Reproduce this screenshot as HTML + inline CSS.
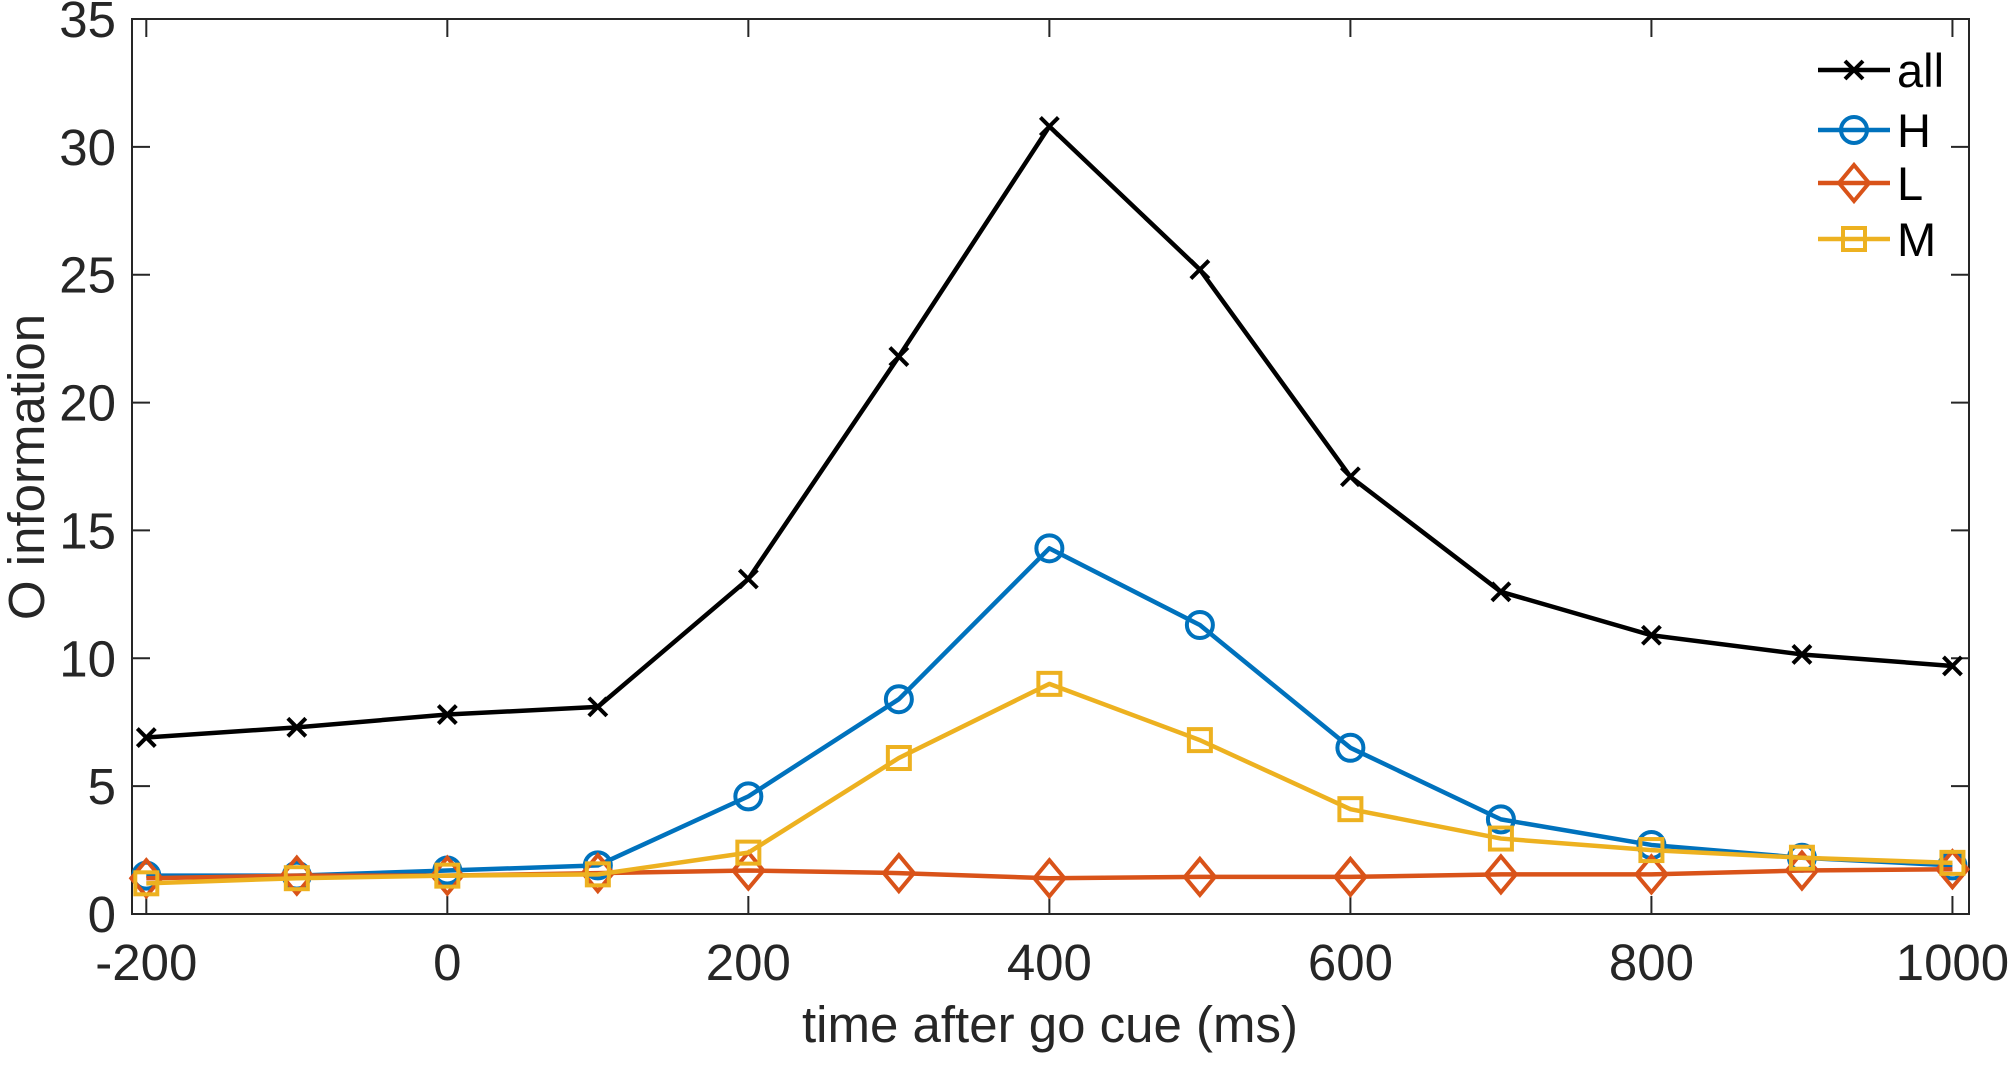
<!DOCTYPE html>
<html><head><meta charset="utf-8"><style>
body{margin:0;background:#fff;}
svg text{font-family:"Liberation Sans",Arial,sans-serif;fill:#262626;}
</style></head><body>
<svg id="chart" width="2008" height="1062" xmlns="http://www.w3.org/2000/svg">
<g id="grid"></g>
<g id="series"></g>
<g id="legend"></g>
</svg>
<script>
const times=[-200,-100,0,100,200,300,400,500,600,700,800,900,1000];
const allVals=[6.9,7.3,7.8,8.1,13.1,21.8,30.8,25.2,17.1,12.6,10.9,10.15,9.7];
const hVals=[1.5,1.5,1.7,1.9,4.6,8.4,14.3,11.3,6.5,3.7,2.7,2.2,1.9];
const lVals=[1.4,1.5,1.5,1.6,1.7,1.6,1.4,1.45,1.45,1.55,1.55,1.7,1.75];
const mVals=[1.2,1.4,1.5,1.55,2.4,6.1,9.0,6.8,4.1,2.95,2.5,2.2,2.0];
const xTicks=[-200,0,200,400,600,800,1000];
const yTicks=[0,5,10,15,20,25,30,35];

const NS="http://www.w3.org/2000/svg";
const L=132,R=1969,T=19,B=914;
const x0=-209.5,x1=1011;
const X=v=>L+(v-x0)/(x1-x0)*(R-L);
const Y=v=>B-v/35*(B-T);
function mk(tag,attrs,parent){const e=document.createElementNS(NS,tag);for(const k in attrs)e.setAttribute(k,attrs[k]);parent.appendChild(e);return e;}
const grid=document.getElementById('grid'),ser=document.getElementById('series'),leg=document.getElementById('legend');

const box=mk('rect',{x:L,y:T,width:R-L,height:B-T,fill:'none',stroke:'#262626','stroke-width':2},grid);


xTicks.forEach(t=>{
  const x=X(t);
  mk('line',{x1:x,y1:B,x2:x,y2:B-18,stroke:'#262626','stroke-width':2},grid);
  mk('line',{x1:x,y1:T,x2:x,y2:T+18,stroke:'#262626','stroke-width':2},grid);
  const tx=mk('text',{x:x,y:B+66,'font-size':51,'text-anchor':'middle'},grid);
  tx.textContent=t;
  
  
});
yTicks.forEach(t=>{
  const y=Y(t);
  mk('line',{x1:L,y1:y,x2:L+18,y2:y,stroke:'#262626','stroke-width':2},grid);
  mk('line',{x1:R,y1:y,x2:R-18,y2:y,stroke:'#262626','stroke-width':2},grid);
  const tx=mk('text',{x:L-16,y:y+18,'font-size':51,'text-anchor':'end'},grid);
  tx.textContent=t;
  
  
});
const xt=mk('text',{x:1050,y:1042,'font-size':51,'text-anchor':'middle'},grid);
xt.textContent='time after go cue (ms)';


const yt=mk('text',{x:0,y:0,'font-size':51,'text-anchor':'middle',transform:'translate(44,467) rotate(-90)'},grid);
yt.textContent='O information';



function marker(type,x,y,color,g){
  const s={stroke:color,'stroke-width':4,fill:'none'};
  let m;
  if(type==='x'){m=mk('path',Object.assign({d:`M${x-9},${y-9}L${x+9},${y+9}M${x-9},${y+9}L${x+9},${y-9}`},s),g);}
  else if(type==='o'){m=mk('circle',Object.assign({cx:x,cy:y,r:13},s),g);}
  else if(type==='d'){m=mk('path',Object.assign({d:`M${x},${y-18}L${x+15},${y}L${x},${y+18}L${x-15},${y}Z`},s),g);}
  else {m=mk('rect',Object.assign({x:x-11,y:y-11,width:22,height:22},s),g);}
  return m;
}
const series=[
  {name:'all',vals:allVals,color:'#000000',m:'x'},
  {name:'H',vals:hVals,color:'#0072bd',m:'o'},
  {name:'L',vals:lVals,color:'#d95319',m:'d'},
  {name:'M',vals:mVals,color:'#edb120',m:'s'}
];
series.forEach((s,i)=>{
  const g=mk('g',{},ser);
  
  
  const pts=s.vals.map((v,j)=>X(times[j])+','+Y(v)).join(' ');
  mk('polyline',{points:pts,fill:'none',stroke:s.color,'stroke-width':4.5,'stroke-linejoin':'round'},g);
  s.vals.forEach((v,j)=>{
    const m=marker(s.m,X(times[j]),Y(v),s.color,g);
    
    
  });
  const ly=[70,130,183,239][i];
  const lg=mk('g',{},leg);
  
  
  mk('line',{x1:1818,y1:ly,x2:1890,y2:ly,stroke:s.color,'stroke-width':4.5},lg);
  marker(s.m,1854,ly,s.color,lg);
  const lt=mk('text',{x:1897,y:ly+17,'font-size':47,style:'fill:#000'},lg);
  lt.textContent=s.name;
});
</script>
</body></html>
